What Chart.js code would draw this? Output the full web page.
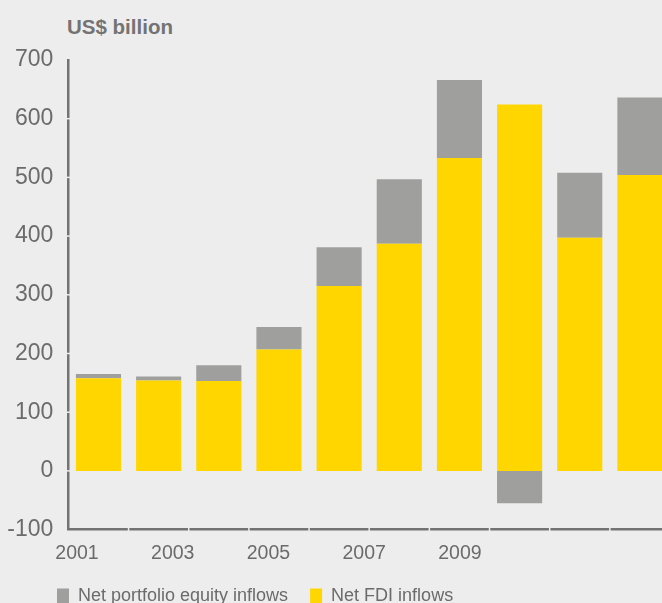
<!DOCTYPE html>
<html>
<head>
<meta charset="utf-8">
<script src="https://cdn.jsdelivr.net/npm/chart.js@4.4.0/dist/chart.umd.min.js"></script>
<style>
  html, body { margin: 0; padding: 0; background: #ededed; overflow: hidden; }
  #wrap { position: relative; width: 662px; height: 603px; overflow: hidden; }
  #unit { position: absolute; left: 67px; top: 15px; font: bold 20.5px "Liberation Sans", Arial, sans-serif; color: #737373; }
  canvas { position: absolute; left: 0; top: 0; }
</style>
</head>
<body>
<div id="wrap">
  <div id="unit">US$ billion</div>
  <canvas id="inflows" width="672" height="627"></canvas>
</div>
<script>
// values, US$ billion
var years = ['2001', '2002', '2003', '2004', '2005', '2006', '2007', '2008', '2009', '2010'];
var fdiInflows = [158, 154, 153, 207, 315, 387, 533, 624, 397, 504];
var portfolioInflows = [7, 7, 27, 38, 66, 110, 133, -55, 111, 132];
var yearTicks = [2001, 2003, 2005, 2007, 2009];

var bg = '#ededed';
var axisGrey = '#737373';
var textGrey = '#6b6b6b';
var sans = '"Liberation Sans", Arial, sans-serif';

// small light gaps cut into the axis lines at ticks / category edges
var axisGaps = {
  id: 'axisGaps',
  afterLayout: function (chart) {
    // legend starts under the y labels, not at the canvas edge, and sits a bit higher
    chart.legend.left = 35;
    chart.legend.top -= 12;
  },
  afterDraw: function (chart) {
    var ctx = chart.ctx, area = chart.chartArea;
    var y = chart.scales.y, x = chart.scales.x;
    ctx.save();
    ctx.strokeStyle = bg;
    ctx.lineWidth = 1.5;
    y.ticks.forEach(function (t) {
      var py = y.getPixelForValue(t.value);
      if (py > area.top + 2 && py < area.bottom - 2) {
        ctx.beginPath();
        ctx.moveTo(area.left - 3, py);
        ctx.lineTo(area.left + 3, py);
        ctx.stroke();
      }
    });
    for (var i = 1; i < years.length; i++) {
      var px = (x.getPixelForTick(i - 1) + x.getPixelForTick(i)) / 2;
      ctx.beginPath();
      ctx.moveTo(px, area.bottom - 3);
      ctx.lineTo(px, area.bottom + 3);
      ctx.stroke();
    }
    ctx.restore();
  }
};

var ctx = document.getElementById('inflows').getContext('2d');
var chart = new Chart(ctx, {
  type: 'bar',
  data: {
    labels: years,
    datasets: [{
      label: 'Net FDI inflows',
      data: fdiInflows,
      backgroundColor: '#ffd600',
      xAxisID: 'x',
      barPercentage: 0.75,
      categoryPercentage: 1
    }, {
      label: 'Net portfolio equity inflows',
      data: portfolioInflows,
      backgroundColor: '#9f9f9d',
      xAxisID: 'x',
      barPercentage: 0.75,
      categoryPercentage: 1
    }]
  },
  options: {
    responsive: false,
    animation: false,
    layout: { padding: { left: 0, right: 2, top: 60, bottom: 0 } },
    plugins: {
      tooltip: { enabled: false },
      legend: {
        position: 'bottom',
        align: 'start',
        reverse: true,
        labels: {
          boxWidth: 12,
          boxHeight: 15,
          padding: 22,
          color: textGrey,
          font: { family: sans, size: 18 }
        }
      }
    },
    scales: {
      x: {
        type: 'category',
        stacked: true,
        display: false
      },
      years: {
        type: 'linear',
        position: 'bottom',
        offset: false,
        min: 2000.82,
        max: 2013.39,
        afterBuildTicks: function (axis) {
          axis.ticks = yearTicks.map(function (v) { return { value: v }; });
        },
        grid: { display: false, drawTicks: false },
        border: { color: axisGrey, width: 2.5 },
        ticks: {
          color: textGrey,
          padding: 12,
          font: { family: sans, size: 19.5 },
          callback: function (v) { return String(v); }
        }
      },
      y: {
        stacked: true,
        min: -100,
        max: 700,
        afterFit: function (scale) { scale.width = 68.4; },
        grid: { display: false, drawTicks: false },
        border: { color: axisGrey, width: 2.5 },
        ticks: {
          stepSize: 100,
          color: textGrey,
          padding: 15,
          font: { family: sans, size: 23 }
        }
      }
    }
  },
  plugins: [axisGaps]
});
</script>
</body>
</html>
